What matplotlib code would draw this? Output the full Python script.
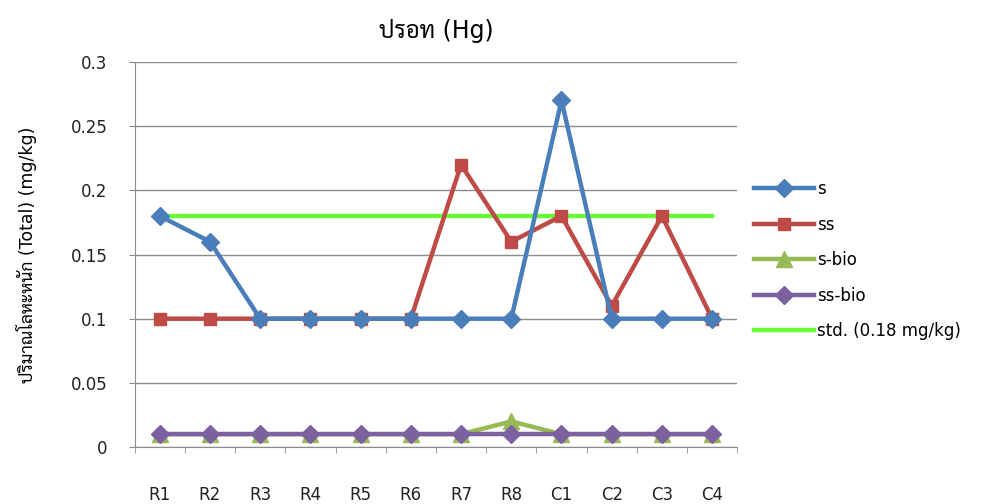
import matplotlib
matplotlib.use("Agg")
import matplotlib.pyplot as plt
import numpy as np

# Data
categories = ["R1", "R2", "R3", "R4", "R5", "R6", "R7", "R8", "C1", "C2", "C3", "C4"]
s = [0.18, 0.16, 0.10, 0.10, 0.10, 0.10, 0.10, 0.10, 0.27, 0.10, 0.10, 0.10]
ss = [0.10, 0.10, 0.10, 0.10, 0.10, 0.10, 0.22, 0.16, 0.18, 0.11, 0.18, 0.10]
s_bio = [0.01, 0.01, 0.01, 0.01, 0.01, 0.01, 0.01, 0.02, 0.01, 0.01, 0.01, 0.01]
ss_bio = [0.01] * 12
std = [0.18] * 12

# Thai glyphs come from Sarabun, the rest from DejaVu Sans
plt.rcParams['font.family'] = ['DejaVu Sans', 'Sarabun', 'Noto Sans']

fig = plt.figure(figsize=(9.83, 5.04), dpi=100)
ax = fig.add_axes([0.137, 0.113, 0.613, 0.764])
x = np.arange(len(categories))

ax.plot(x, s, color='#4A7EBB', lw=3.2, marker='D', ms=9, label='s', zorder=4)
ax.plot(x, ss, color='#BE4B48', lw=3.2, marker='s', ms=8, label='ss', zorder=3)
ax.plot(x, s_bio, color='#98B954', lw=3.2, marker='^', ms=12, label='s-bio', zorder=3)
ax.plot(x, ss_bio, color='#7D60A0', lw=3.2, marker='D', ms=9, label='ss-bio', zorder=4)
ax.plot(x, std, color='#66FF33', lw=3.2, label='std. (0.18 mg/kg)', zorder=2)

ax.set_xlim(-0.5, 11.5)
ax.set_ylim(0, 0.3)
ax.set_yticks(np.arange(0, 0.31, 0.05))
ax.set_yticklabels(['0', '0.05', '0.1', '0.15', '0.2', '0.25', '0.3'], fontsize=12, color='#222222')
ax.yaxis.grid(True, color='#8C8C8C', lw=1)
ax.set_axisbelow(True)

ax.set_xticks(x)
ax.set_xticklabels(categories, fontsize=12, color='#222222')
ax.set_xticks(np.arange(-0.5, 12, 1), minor=True)
ax.tick_params(axis='x', which='major', length=0, pad=28)
ax.tick_params(axis='x', which='minor', length=4.5, color='#8C8C8C', direction='out')
ax.tick_params(axis='y', length=4.5, color='#8C8C8C', pad=15)

for side in ['top', 'right']:
    ax.spines[side].set_visible(False)
for side in ['left', 'bottom']:
    ax.spines[side].set_color('#8C8C8C')

ax.set_title('ปรอท (Hg)', fontsize=17, pad=17)
ax.set_ylabel('ปริมาณโลหะหนัก (Total) (mg/kg)', fontsize=12.5, labelpad=24)

ax.legend(loc='center left', bbox_to_anchor=(1.0, 0.485), frameon=False, fontsize=12,
          handlelength=3.6, labelspacing=1.05, handletextpad=0.2, borderaxespad=0.6)

fig.savefig('out.png', dpi=100)
